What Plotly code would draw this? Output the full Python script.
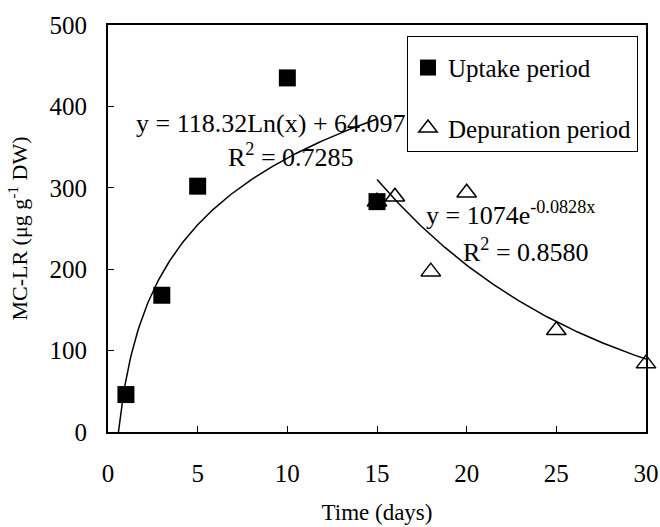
import numpy as np
import plotly.graph_objects as go

# Data
uptake_days = [1, 3, 5, 10, 15]
uptake_mclr = [46, 168, 302, 435, 283]
depur_days = [15, 16, 18, 20, 25, 30]
depur_mclr = [283, 289, 197, 294, 125, 84]

# Trendline coefficients (as printed on the chart)
log_a, log_b = 118.32, 64.097
exp_a, exp_k = 1074, -0.0828

FONT = "Liberation Serif"

x_log = np.linspace(np.exp(-log_b / log_a), 15, 200)
y_log = log_a * np.log(x_log) + log_b
x_exp = np.linspace(15, 30, 200)
y_exp = exp_a * np.exp(exp_k * x_exp)

fig = go.Figure()
fig.add_trace(go.Scatter(x=x_log, y=y_log, mode="lines", line=dict(color="black", width=1.5),
                         showlegend=False, hoverinfo="skip"))
fig.add_trace(go.Scatter(x=x_exp, y=y_exp, mode="lines", line=dict(color="black", width=1.5),
                         showlegend=False, hoverinfo="skip"))
fig.add_trace(go.Scatter(x=uptake_days, y=uptake_mclr, mode="markers", name="Uptake period",
                         legendgroup="a", cliponaxis=False,
                         marker=dict(symbol="square", size=17, color="black")))
fig.add_trace(go.Scatter(x=depur_days, y=depur_mclr, mode="markers", name="Depuration period",
                         legendgroup="b", cliponaxis=False,
                         marker=dict(symbol="triangle-up-open", size=17, color="black",
                                     line=dict(width=1.5, color="black"))))

W, H = 660, 527
L, R, T, B = 108, 646, 25, 432

annots = [
    ("y = 118.32Ln(x) + 64.097", 271, 123),
    ("R<sup>2</sup> = 0.7285", 291, 155),
    ("y = 1074e<sup>-0.0828x</sup>", 510, 213),
    ("R<sup>2</sup> = 0.8580", 526, 250),
]
for txt, px, py in annots:
    fig.add_annotation(x=(px - L) / (R - L), y=(B - py) / (B - T), xref="paper", yref="paper",
                       text=txt, showarrow=False, font=dict(family=FONT, size=26, color="black"),
                       xanchor="center", yanchor="middle")

fig.update_layout(
    width=W, height=H,
    margin=dict(l=L, r=W - R, t=T, b=H - B),
    plot_bgcolor="white", paper_bgcolor="white",
    font=dict(family=FONT, size=25, color="black"),
    showlegend=True,
    legend=dict(x=(407 - L) / (R - L), y=(B - 36) / (B - T), xanchor="left", yanchor="top",
                bordercolor="black", borderwidth=1, bgcolor="white",
                tracegroupgap=25, font=dict(family=FONT, size=25),
                title=dict(text="&nbsp;", font=dict(size=6))),
    xaxis=dict(range=[0, 30], tickvals=[0, 5, 10, 15, 20, 25, 30], showgrid=False, zeroline=False,
               showline=True, linecolor="black", linewidth=2, mirror=True, automargin=False,
               ticks="inside", ticklen=6, tickcolor="black", ticklabelstandoff=18,
               tickfont=dict(family=FONT, size=25),
               title=dict(text="Time (days)", font=dict(family=FONT, size=23), standoff=18)),
    yaxis=dict(range=[0, 500], tickvals=[0, 100, 200, 300, 400, 500], showgrid=False, zeroline=False,
               showline=True, linecolor="black", linewidth=2, mirror=True, automargin=False,
               ticks="inside", ticklen=6, tickcolor="black", ticklabelstandoff=14,
               tickfont=dict(family=FONT, size=25),
               title=dict(text="MC-LR (μg g<sup>-1</sup> DW)", font=dict(family=FONT, size=22), standoff=16)),
)

# remove the browser's default 8px body margin so the figure fills the window exactly
fig.write_html("out.html", config={"displayModeBar": False},
               post_script="document.body.style.margin='0';document.body.style.overflow='hidden';")
